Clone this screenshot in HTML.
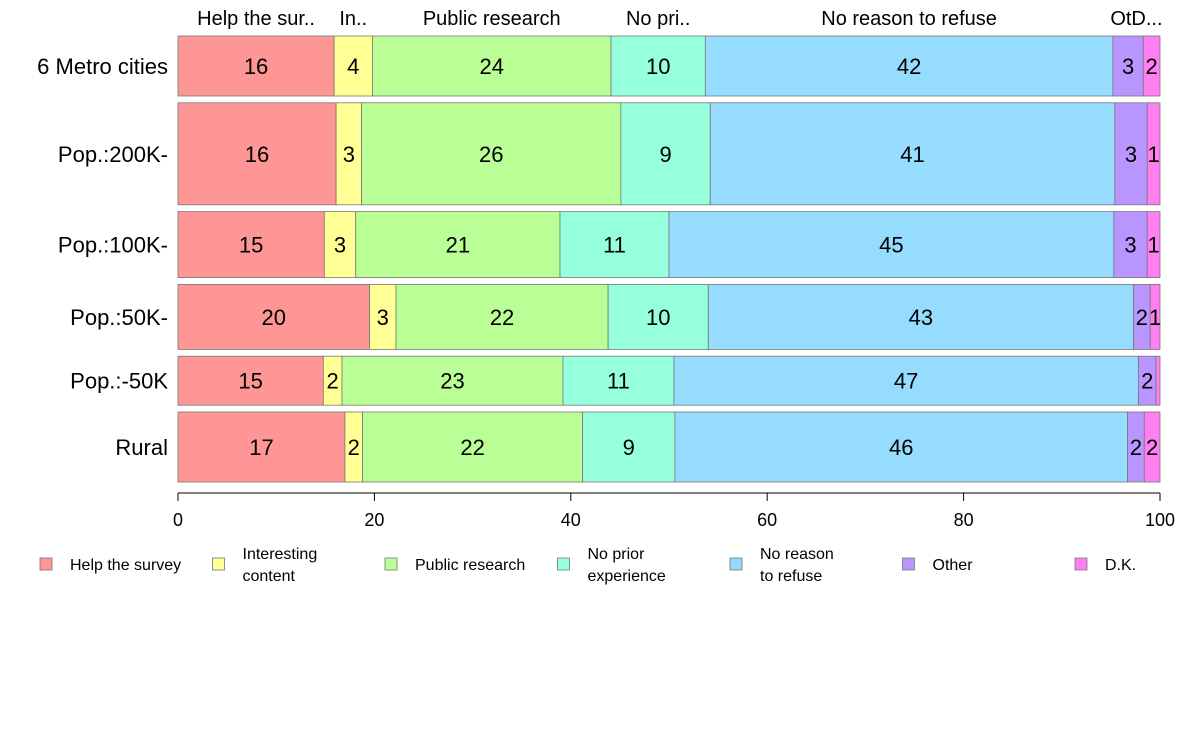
<!DOCTYPE html>
<html><head><meta charset="utf-8"><style>
body{margin:0;background:#fff;}
svg text{font-family:"Liberation Sans",Arial,sans-serif;fill:#000;}
</style></head><body>
<svg id="chart" width="1188" height="736" xmlns="http://www.w3.org/2000/svg"></svg>
<script>
const categories = ["6 Metro cities","Pop.:200K-","Pop.:100K-","Pop.:50K-","Pop.:-50K","Rural"];
const rowWeights = [60,102,66,65,49,70];
const seriesNames = ["Help the survey","Interesting content","Public research","No prior experience","No reason to refuse","Other","D.K."];
const helpVals = [15.9,16.1,14.9,19.5,14.8,17.0];
const interestingVals = [3.9,2.6,3.2,2.7,1.9,1.8];
const publicVals = [24.3,26.4,20.8,21.6,22.5,22.4];
const noPriorVals = [9.6,9.1,11.1,10.2,11.3,9.4];
const noReasonVals = [41.5,41.2,45.3,43.3,47.3,46.1];
const otherVals = [3.1,3.3,3.4,1.7,1.8,1.7];
const dkVals = [1.7,1.3,1.3,1.0,0.4,1.6];
const tickLabels = [0,20,40,60,80,100];
const topLabels = ["Help the sur..","In..","Public research","No pri..","No reason to refuse","OtD..."];
const legendLines = [["Help the survey"],["Interesting","content"],["Public research"],["No prior","experience"],["No reason","to refuse"],["Other"],["D.K."]];

const series = [helpVals,interestingVals,publicVals,noPriorVals,noReasonVals,otherVals,dkVals];
const colors = ["#ff9696","#ffff96","#b9ff96","#96ffdc","#96dcff","#b996ff","#ff7ff0"];
const X0=178,X1=1160,Y0=36,Y1=482,GAP=6.8;
const x = v => X0 + (X1-X0)*v/100;
const svg = document.getElementById('chart');
const NS="http://www.w3.org/2000/svg";
function mk(tag, attrs, parent){const e=document.createElementNS(NS,tag);for(const k in attrs)e.setAttribute(k,attrs[k]);(parent||svg).appendChild(e);return e;}
const totalW = rowWeights.reduce((a,b)=>a+b,0);
const avail = (Y1-Y0) - GAP*(categories.length-1);
let y = Y0;
const rowsTop=[];
categories.forEach((cat,i)=>{
  const h = avail*rowWeights[i]/totalW;
  rowsTop.push([y,h]);
  const g = mk('g',{});
  
  
  let cum=0;
  series.forEach((s,j)=>{
    const v=s[i];
    const r=mk('rect',{x:x(cum),y:y,width:x(cum+v)-x(cum),height:h,fill:colors[j],stroke:'#777','stroke-width':0.8},g);
    
    
    const lab=Math.round(v);
    if(lab>=1){
      const t=mk('text',{x:(x(cum)+x(cum+v))/2,y:y+h/2+8,'text-anchor':'middle','font-size':22},g);
      t.textContent=lab;
      
      
    }
    cum+=v;
  });
  const t=mk('text',{x:168,y:y+h/2+8,'text-anchor':'end','font-size':22});
  t.textContent=cat;
  
  
  y+=h+GAP;
});
// top labels from first row
{
  let cum=0;
  const starts=[];
  series.forEach(s=>{starts.push([cum,cum+s[0]]);cum+=s[0];});
  for(let j=0;j<5;j++){
    const t=mk('text',{x:(x(starts[j][0])+x(starts[j][1]))/2,y:25,'text-anchor':'middle','font-size':20});
    t.textContent=topLabels[j];
    
    
  }
  const t=mk('text',{x:(x(starts[5][0])+x(starts[6][1]))/2,y:25,'text-anchor':'middle','font-size':20});
  t.textContent=topLabels[5];
  
  
}
// x axis
const ax=mk('line',{x1:X0,x2:X1,y1:493,y2:493,stroke:'#000','stroke-width':1});


tickLabels.forEach(v=>{
  const l=mk('line',{x1:x(v),x2:x(v),y1:493,y2:501,stroke:'#000'});
  
  
  const t=mk('text',{x:x(v),y:526,'text-anchor':'middle','font-size':18});
  t.textContent=v;
  
  
});
// legend
legendLines.forEach((lines,j)=>{
  const lx=40+j*172.5;
  const g=mk('g',{});
  
  
  mk('rect',{x:lx,y:558,width:12,height:12,fill:colors[j],stroke:'#777','stroke-width':0.8},g);
  lines.forEach((ln,k)=>{
    const ty = lines.length===1 ? 570 : 559+k*22;
    const t=mk('text',{x:lx+30,y:ty,'font-size':16},g);
    t.textContent=ln;
  });
});
</script>
</body></html>
